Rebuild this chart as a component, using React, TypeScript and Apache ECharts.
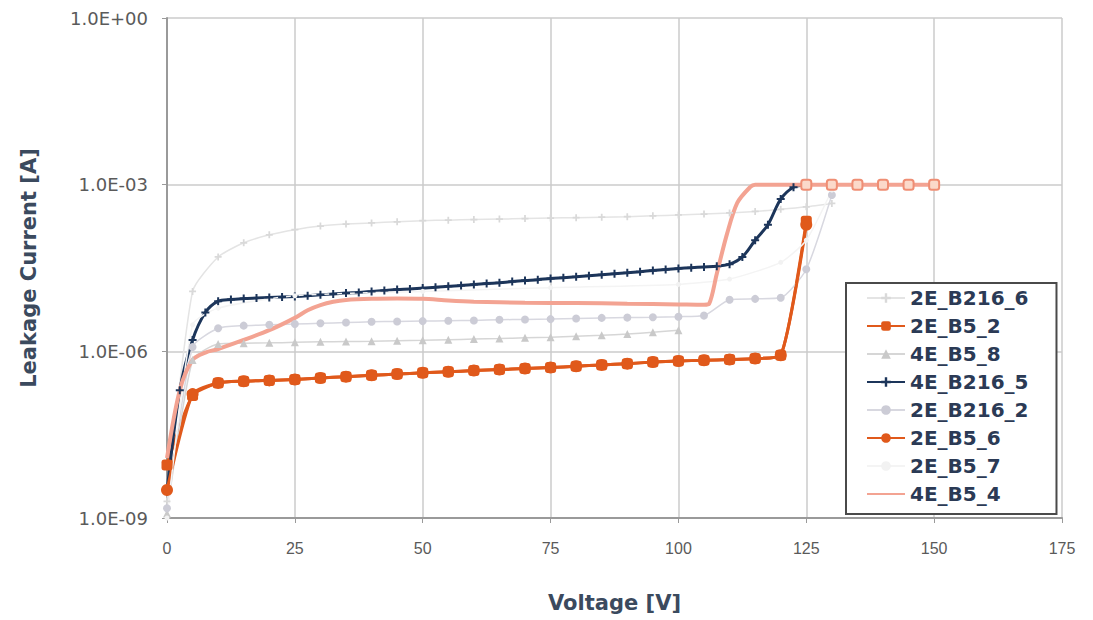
import React, { useEffect, useRef } from "react";
import * as echarts from "echarts";

// ---------- data ----------
const SERIES_NAMES = ["2E_B216_6", "2E_B5_2", "4E_B5_8", "4E_B216_5", "2E_B216_2", "2E_B5_6", "2E_B5_7", "4E_B5_4"];

const V_2E_B216_6 = [0, 5, 10, 15, 20, 25, 30, 35, 40, 45, 50, 55, 60, 65, 70, 75, 80, 85, 90, 95, 100, 105, 110, 115, 120, 125, 130];
const I_2E_B216_6 = [2.0e-9, 1.2e-5, 5.0e-5, 9.0e-5, 1.25e-4, 1.55e-4, 1.8e-4, 1.95e-4, 2.05e-4, 2.15e-4, 2.25e-4, 2.3e-4, 2.35e-4, 2.4e-4, 2.45e-4, 2.5e-4, 2.55e-4, 2.6e-4, 2.65e-4, 2.75e-4, 2.85e-4, 2.95e-4, 3.1e-4, 3.3e-4, 3.6e-4, 4.0e-4, 4.6e-4];

const V_2E_B5_2 = [0, 5, 10, 15, 20, 25, 30, 35, 40, 45, 50, 55, 60, 65, 70, 75, 80, 85, 90, 95, 100, 105, 110, 115, 120, 125];
const I_2E_B5_2 = [9.0e-9, 1.6e-7, 2.7e-7, 2.9e-7, 3.0e-7, 3.1e-7, 3.3e-7, 3.5e-7, 3.7e-7, 3.9e-7, 4.1e-7, 4.3e-7, 4.5e-7, 4.7e-7, 4.9e-7, 5.1e-7, 5.4e-7, 5.7e-7, 6.0e-7, 6.4e-7, 6.7e-7, 6.9e-7, 7.1e-7, 7.4e-7, 8.5e-7, 2.2e-4];

const V_4E_B5_8 = [0, 5, 10, 15, 20, 25, 30, 35, 40, 45, 50, 55, 60, 65, 70, 75, 80, 85, 90, 95, 100];
const I_4E_B5_8 = [1.2e-9, 7.0e-7, 1.35e-6, 1.4e-6, 1.42e-6, 1.45e-6, 1.48e-6, 1.5e-6, 1.52e-6, 1.55e-6, 1.58e-6, 1.62e-6, 1.66e-6, 1.7e-6, 1.75e-6, 1.8e-6, 1.87e-6, 1.95e-6, 2.05e-6, 2.2e-6, 2.4e-6];

const V_4E_B216_5 = [0, 2.5, 5, 7.5, 10, 12.5, 15, 17.5, 20, 22.5, 25, 27.5, 30, 32.5, 35, 37.5, 40, 42.5, 45, 47.5, 50, 52.5, 55, 57.5, 60, 62.5, 65, 67.5, 70, 72.5, 75, 77.5, 80, 82.5, 85, 87.5, 90, 92.5, 95, 97.5, 100, 102.5, 105, 107.5, 110, 112.5, 115, 117.5, 120, 122.5, 125];
const I_4E_B216_5 = [3.0e-9, 2.0e-7, 1.6e-6, 5.0e-6, 8.0e-6, 8.6e-6, 8.9e-6, 9.1e-6, 9.3e-6, 9.5e-6, 9.7e-6, 1.0e-5, 1.04e-5, 1.08e-5, 1.12e-5, 1.15e-5, 1.2e-5, 1.25e-5, 1.3e-5, 1.33e-5, 1.38e-5, 1.42e-5, 1.48e-5, 1.53e-5, 1.6e-5, 1.66e-5, 1.72e-5, 1.8e-5, 1.88e-5, 1.95e-5, 2.05e-5, 2.12e-5, 2.2e-5, 2.3e-5, 2.4e-5, 2.5e-5, 2.6e-5, 2.72e-5, 2.85e-5, 2.98e-5, 3.1e-5, 3.2e-5, 3.3e-5, 3.4e-5, 3.7e-5, 5.0e-5, 1.0e-4, 1.9e-4, 5.5e-4, 9.0e-4, 1.0e-3];

const V_2E_B216_2 = [0, 5, 10, 15, 20, 25, 30, 35, 40, 45, 50, 55, 60, 65, 70, 75, 80, 85, 90, 95, 100, 105, 110, 115, 120, 125, 130];
const I_2E_B216_2 = [1.5e-9, 1.2e-6, 2.6e-6, 2.9e-6, 3.0e-6, 3.1e-6, 3.2e-6, 3.3e-6, 3.4e-6, 3.45e-6, 3.5e-6, 3.55e-6, 3.6e-6, 3.7e-6, 3.75e-6, 3.8e-6, 3.9e-6, 4.0e-6, 4.05e-6, 4.1e-6, 4.2e-6, 4.4e-6, 8.5e-6, 8.8e-6, 9.2e-6, 3.0e-5, 6.5e-4];

const V_2E_B5_6 = [0, 5, 10, 15, 20, 25, 30, 35, 40, 45, 50, 55, 60, 65, 70, 75, 80, 85, 90, 95, 100, 105, 110, 115, 120, 125];
const I_2E_B5_6 = [3.2e-9, 1.7e-7, 2.7e-7, 2.9e-7, 3.0e-7, 3.1e-7, 3.3e-7, 3.5e-7, 3.7e-7, 3.9e-7, 4.1e-7, 4.3e-7, 4.5e-7, 4.7e-7, 4.9e-7, 5.1e-7, 5.4e-7, 5.7e-7, 6.0e-7, 6.4e-7, 6.7e-7, 6.9e-7, 7.1e-7, 7.4e-7, 8.5e-7, 1.9e-4];

const V_2E_B5_7 = [0, 5, 10, 25, 50, 75, 100, 110, 120, 125, 130];
const I_2E_B5_7 = [1.0e-9, 3.0e-6, 6.0e-6, 1.0e-5, 1.2e-5, 1.4e-5, 1.6e-5, 2.0e-5, 4.0e-5, 1.0e-4, 8.0e-4];

const V_4E_B5_4 = [0, 2.5, 5, 7.5, 10, 15, 20, 25, 27.5, 30, 32.5, 35, 40, 45, 50, 55, 60, 70, 80, 90, 100, 105, 106, 107.5, 109.5, 111.5, 114, 115, 120, 125, 130, 135, 140, 145, 150];
const I_4E_B5_4 = [1.2e-8, 2.0e-7, 7.0e-7, 9.5e-7, 1.1e-6, 1.6e-6, 2.4e-6, 4.0e-6, 5.5e-6, 6.8e-6, 7.8e-6, 8.4e-6, 8.8e-6, 8.9e-6, 8.8e-6, 8.2e-6, 7.8e-6, 7.5e-6, 7.4e-6, 7.2e-6, 7.0e-6, 6.9e-6, 7.2e-6, 2.5e-5, 1.3e-4, 4.7e-4, 9.0e-4, 1.0e-3, 1.0e-3, 1.0e-3, 1.0e-3, 1.0e-3, 1.0e-3, 1.0e-3, 1.0e-3];
const MARKED_4E_B5_4 = [125, 130, 135, 140, 145, 150];

const X_MIN = 0;
const X_MAX = 175;
const X_STEP = 25;
const Y_MIN = 1e-9;
const Y_MAX = 1;

// ---------- helpers ----------
const pairs = (v: number[], i: number[]) => v.map((x, k) => [x, i[k]]);
const PLUS = "path://M3,0H5V3H8V5H5V8H3V5H0V3H3Z";

const fmtExp = (v: number) => {
  const e = Math.round(Math.log10(v));
  const sign = e < 0 ? "-" : "+";
  return "1.0E" + sign + String(Math.abs(e)).padStart(2, "0");
};

export default function App() {
  const ref = useRef<HTMLDivElement>(null);

  useEffect(() => {
    if (!ref.current) return;
    const chart = echarts.init(ref.current, undefined, { renderer: "svg" });

    const orange = "#e0591b";
    const navy = "#1c355a";
    const salmon = "#f3a392";

    const option: any = {
      animation: false,
      backgroundColor: "#ffffff",
      grid: { left: 167, right: 31, top: 18, bottom: 102, containLabel: false },
      legend: {
        orient: "vertical",
        left: 846,
        top: 283,
        data: SERIES_NAMES.map((n) =>
          n === "4E_B5_4" ? { name: n, itemStyle: { opacity: 0 } } : { name: n }
        ),
        backgroundColor: "#ffffff",
        borderColor: "#4a4a4a",
        borderWidth: 2,
        padding: [5, 28, 10, 20],
        itemGap: 8,
        itemWidth: 38,
        itemHeight: 12,
        textStyle: { fontFamily: "DejaVu Sans", fontWeight: "bold", fontSize: 20, color: "#2b3a55" },
      },
      xAxis: {
        type: "value",
        min: X_MIN,
        max: X_MAX,
        interval: X_STEP,
        name: "Voltage [V]",
        nameLocation: "middle",
        nameGap: 74,
        nameTextStyle: { fontFamily: "DejaVu Sans", fontWeight: "bold", fontSize: 21, color: "#3b4a5e" },
        axisLine: { show: true, lineStyle: { color: "#9a9a9a", width: 2 } },
        axisTick: { show: true, length: 5, lineStyle: { color: "#9a9a9a" } },
        axisLabel: { margin: 22, fontFamily: "Liberation Sans", fontSize: 16, color: "#5a5a5a" },
        splitLine: { show: true, lineStyle: { color: "#cbcbcb", width: 1.5 } },
      },
      yAxis: {
        type: "log",
        logBase: 10,
        min: Y_MIN,
        max: Y_MAX,
        interval: 3,
        name: "Leakage Current [A]",
        nameLocation: "middle",
        nameGap: 128,
        nameTextStyle: { fontFamily: "DejaVu Sans", fontWeight: "bold", fontSize: 21, color: "#3b4a5e" },
        axisLine: { show: true, lineStyle: { color: "#9a9a9a", width: 2 } },
        axisTick: { show: true, length: 5, lineStyle: { color: "#9a9a9a" } },
        axisLabel: { margin: 19, fontFamily: "DejaVu Sans", fontSize: 18, color: "#5a5a5a", formatter: fmtExp },
        splitLine: { show: true, lineStyle: { color: "#cbcbcb", width: 1.5 } },
      },
      series: [
        {
          name: SERIES_NAMES[0],
          type: "line",
          data: pairs(V_2E_B216_6, I_2E_B216_6),
          smooth: 0.2,
          symbol: PLUS,
          symbolSize: 7,
          itemStyle: { color: "#d9d9d9" },
          lineStyle: { color: "#e4e4e4", width: 1.5 },
        },
        {
          name: SERIES_NAMES[1],
          type: "line",
          data: pairs(V_2E_B5_2, I_2E_B5_2),
          smooth: 0.2,
          symbol: "roundRect",
          symbolSize: 11,
          itemStyle: { color: orange },
          lineStyle: { color: orange, width: 3 },
        },
        {
          name: SERIES_NAMES[2],
          type: "line",
          data: pairs(V_4E_B5_8, I_4E_B5_8),
          smooth: 0.2,
          symbol: "triangle",
          symbolSize: 8,
          itemStyle: { color: "#c9c9c9" },
          lineStyle: { color: "#d6d6d6", width: 1.5 },
        },
        {
          name: SERIES_NAMES[3],
          type: "line",
          data: pairs(V_4E_B216_5, I_4E_B216_5),
          smooth: 0.3,
          symbol: PLUS,
          symbolSize: 8,
          itemStyle: { color: navy },
          lineStyle: { color: navy, width: 3 },
        },
        {
          name: SERIES_NAMES[4],
          type: "line",
          data: pairs(V_2E_B216_2, I_2E_B216_2),
          smooth: 0.2,
          symbol: "circle",
          symbolSize: 8,
          itemStyle: { color: "#ccccd6" },
          lineStyle: { color: "#d8d8e0", width: 1.5 },
        },
        {
          name: SERIES_NAMES[5],
          type: "line",
          data: pairs(V_2E_B5_6, I_2E_B5_6),
          smooth: 0.2,
          symbol: "circle",
          symbolSize: 12,
          itemStyle: { color: orange },
          lineStyle: { color: orange, width: 3 },
        },
        {
          name: SERIES_NAMES[6],
          type: "line",
          data: pairs(V_2E_B5_7, I_2E_B5_7),
          smooth: 0.2,
          symbol: "circle",
          symbolSize: 5,
          itemStyle: { color: "#f2f2f2" },
          lineStyle: { color: "#f4f4f4", width: 1.5 },
        },
        {
          name: SERIES_NAMES[7],
          type: "line",
          data: pairs(V_4E_B5_4, I_4E_B5_4).map((p) =>
            MARKED_4E_B5_4.includes(p[0])
              ? {
                  value: p,
                  symbol: "roundRect",
                  symbolSize: 10,
                  itemStyle: { color: "#fbd9ca", borderColor: "#ef8e74", borderWidth: 2 },
                }
              : { value: p }
          ),
          smooth: 0.3,
          symbol: "none",
          itemStyle: { color: salmon },
          lineStyle: { color: salmon, width: 4 },
        },
      ],
    };

    chart.setOption(option);
    return () => chart.dispose();
  }, []);

  return (
    <div
      ref={ref}
      style={{ position: "fixed", left: 0, top: 0, width: 1093, height: 620, background: "#fff" }}
    />
  );
}
